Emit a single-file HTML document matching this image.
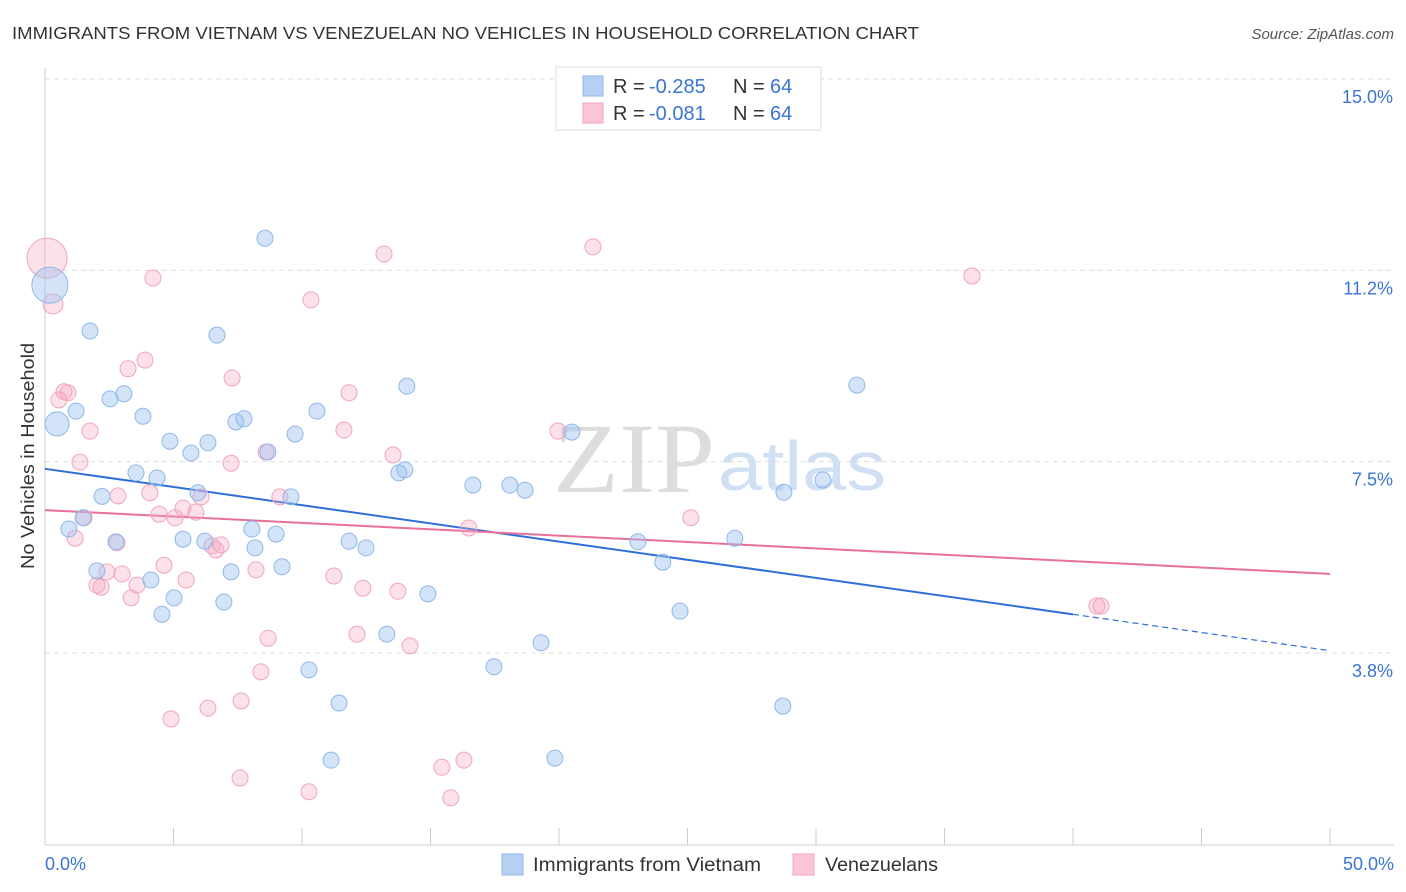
<!DOCTYPE html>
<html><head><meta charset="utf-8"><style>
body{margin:0;background:#fff;font-family:"Liberation Sans",sans-serif;}
svg{display:block}
</style></head><body>
<svg id="chart" width="1406" height="892">
<text x="12" y="39" font-size="17.5" fill="#333" textLength="907" lengthAdjust="spacingAndGlyphs">IMMIGRANTS FROM VIETNAM VS VENEZUELAN NO VEHICLES IN HOUSEHOLD CORRELATION CHART</text>
<text x="1394" y="39" font-size="15" fill="#555" font-style="italic" text-anchor="end">Source: ZipAtlas.com</text>
<text transform="translate(34,456) rotate(-90)" font-size="18" fill="#333" text-anchor="middle" textLength="226" lengthAdjust="spacingAndGlyphs">No Vehicles in Household</text>
<g>
<text x="553" y="492" font-size="100" fill="#ddd" font-family="Liberation Serif,serif" textLength="162" lengthAdjust="spacingAndGlyphs">ZIP</text>
<text x="718" y="490" font-size="70" fill="#cfe0f4" textLength="168" lengthAdjust="spacingAndGlyphs">atlas</text>
</g>
<g id="grid"></g><g id="axes"></g><g id="trends"></g><g id="points"></g>
<g>
<rect x="556" y="67" width="265" height="63" fill="#fff" stroke="#ddd"/>
<rect x="583" y="76" width="20" height="20" fill="#b5d0f3" stroke="#8fb8e8"/>
<rect x="583" y="103" width="20" height="20" fill="#fbc5d5" stroke="#f0a5be"/>
<g font-size="20" fill="#333">
<text x="613" y="93">R =</text>
<text x="649" y="93" fill="#3a75d4">-0.285</text>
<text x="733" y="93">N =</text>
<text x="770" y="93" fill="#3a75d4">64</text>
<text x="613" y="120">R =</text>
<text x="649" y="120" fill="#3a75d4">-0.081</text>
<text x="733" y="120">N =</text>
<text x="770" y="120" fill="#3a75d4">64</text>
</g>
</g>
<g>
<rect x="502" y="854" width="21" height="21" fill="#b5d0f3" stroke="#8fb8e8"/>
<text x="533" y="871" font-size="19" fill="#333" textLength="228" lengthAdjust="spacingAndGlyphs">Immigrants from Vietnam</text>
<rect x="793" y="854" width="21" height="21" fill="#fbc5d5" stroke="#f0a5be"/>
<text x="825" y="871" font-size="19" fill="#333" textLength="113" lengthAdjust="spacingAndGlyphs">Venezuelans</text>
</g>
</svg>
<script>
const blueX=[0.19,0.47,1.75,1.21,2.53,3.07,3.81,2.22,1.48,0.93,2.02,2.76,3.54,4.36,4.12,4.86,4.55,5.02,5.68,6.34,6.69,5.95,5.37,6.22,6.96,7.24,7.43,7.74,8.56,8.67,8.05,8.17,8.99,9.22,9.57,9.73,10.58,10.27,11.44,11.13,11.83,12.49,13.30,13.77,14.00,14.08,14.90,16.65,17.47,18.09,18.68,19.30,19.84,20.50,23.07,24.04,24.71,26.84,28.71,28.75,30.27,31.59];
const blueY=[10.96,8.24,10.06,8.49,8.73,8.83,8.39,6.82,6.40,6.18,5.36,5.93,7.28,7.18,5.18,7.90,4.51,4.83,7.67,7.87,9.98,6.89,5.98,5.94,4.75,5.34,8.28,8.34,11.88,7.69,6.18,5.81,6.08,5.44,6.81,8.04,8.49,3.42,2.77,1.65,5.94,5.81,4.12,7.28,7.34,8.98,4.91,7.04,3.48,7.04,6.94,3.95,1.69,8.08,5.93,5.53,4.57,6.00,2.71,6.90,7.14,9.00];
const blueR=[18,12,8,8,8,8,8,8,8,8,8,8,8,8,8,8,8,8,8,8,8,8,8,8,8,8,8,8,8,8,8,8,8,8,8,8,8,8,8,8,8,8,8,8,8,8,8,8,8,8,8,8,8,8,8,8,8,8,8,8,8,8];
const pinkX=[0.08,0.31,0.74,0.89,0.54,1.75,1.36,2.84,1.17,1.52,2.80,3.23,3.89,4.20,4.08,4.44,5.06,5.37,5.87,6.07,5.49,4.63,3.00,2.41,2.02,2.18,3.58,3.35,7.28,7.24,6.50,6.65,6.85,8.21,8.60,8.68,8.40,7.63,6.34,4.90,7.59,9.14,10.35,10.27,11.63,11.83,11.24,12.37,12.14,13.19,13.54,13.73,14.20,15.44,15.79,16.30,16.49,19.96,21.32,25.13,36.07,40.93,41.09];
const pinkY=[11.49,10.59,8.87,8.85,8.71,8.10,7.49,6.83,6.00,6.40,5.91,9.32,9.49,11.10,6.89,6.47,6.40,6.59,6.51,6.81,5.18,5.47,5.30,5.34,5.08,5.04,5.08,4.83,9.14,7.47,5.85,5.77,5.87,5.38,7.69,4.04,3.38,2.81,2.67,2.46,1.30,6.81,10.67,1.03,8.12,8.85,5.26,5.02,4.12,11.57,7.63,4.96,3.89,1.51,0.91,1.65,6.20,8.10,11.71,6.40,11.14,4.67,4.67];
const pinkR=[20,10];
const yTicks=[3.75,7.5,11.25,15];
const yTickLabels=["3.8%","7.5%","11.2%","15.0%"];
const xTicks=[0,5,10,15,20,25,30,35,40,45,50];
const blueTrend=[7.36,-0.0713]; // intercept, slope
const pinkTrend=[6.55,-0.025];
const blueSolidEnd=40;

const X0=45,X1=1330,Y15=79,Y375=653;
const xs=v=>X0+(X1-X0)*v/50;
const ys=v=>Y375-(v-3.75)*(Y375-Y15)/11.25;
const NS="http://www.w3.org/2000/svg";
function mk(tag,attrs,parent){const e=document.createElementNS(NS,tag);for(const k in attrs)e.setAttribute(k,attrs[k]);parent.appendChild(e);return e;}
const grid=document.getElementById('grid'),axes=document.getElementById('axes'),trends=document.getElementById('trends'),pts=document.getElementById('points');
yTicks.forEach((t,i)=>{
 const l=mk('line',{x1:X0,x2:1394,y1:ys(t),y2:ys(t),stroke:'#ddd','stroke-dasharray':'5,4'},grid);
 
 
 const tx=mk('text',{x:1393,y:ys(t)+24,'font-size':18,fill:'#3a75d4','text-anchor':'end'},axes);
 tx.textContent=yTickLabels[i];
 
 
});
const ax=mk('line',{x1:X0,x2:X0,y1:68,y2:845,stroke:'#ccc'},axes);


const bx=mk('line',{x1:X0,x2:1394,y1:845,y2:845,stroke:'#ccc'},axes);


xTicks.forEach(t=>{
 const l=mk('line',{x1:xs(t),x2:xs(t),y1:828,y2:845,stroke:'#ccc'},axes);
 
 
});
const xl0=mk('text',{x:45,y:870,'font-size':18,fill:'#3a75d4'},axes);xl0.textContent="0.0%";


const xl1=mk('text',{x:1394,y:870,'font-size':18,fill:'#3a75d4','text-anchor':'end'},axes);xl1.textContent="50.0%";



function drawPts(X,Y,R,fill,stroke,name){
 X.forEach((x,i)=>{
  const c=mk('circle',{cx:xs(x),cy:ys(Y[i]),r:R[i]||8,fill:fill,stroke:stroke,'stroke-width':1},pts);
  
  
 });
}
drawPts(pinkX,pinkY,pinkR,'rgba(246,170,196,0.35)','#f0a5be','point-venezuelans');
drawPts(blueX,blueY,blueR,'rgba(160,196,240,0.45)','#8fb8e8','point-vietnam');

const bt=mk('line',{x1:xs(0),y1:ys(blueTrend[0]),x2:xs(blueSolidEnd),y2:ys(blueTrend[0]+blueTrend[1]*blueSolidEnd),stroke:'#2d6fd9','stroke-width':2},trends);


const bd=mk('line',{x1:xs(blueSolidEnd),y1:ys(blueTrend[0]+blueTrend[1]*blueSolidEnd),x2:xs(50),y2:ys(blueTrend[0]+blueTrend[1]*50),stroke:'#2d6fd9','stroke-width':1.2,'stroke-dasharray':'6,4'},trends);


const pt=mk('line',{x1:xs(0),y1:ys(pinkTrend[0]),x2:xs(50),y2:ys(pinkTrend[0]+pinkTrend[1]*50),stroke:'#e8709a','stroke-width':2},trends);


</script>
</body></html>
